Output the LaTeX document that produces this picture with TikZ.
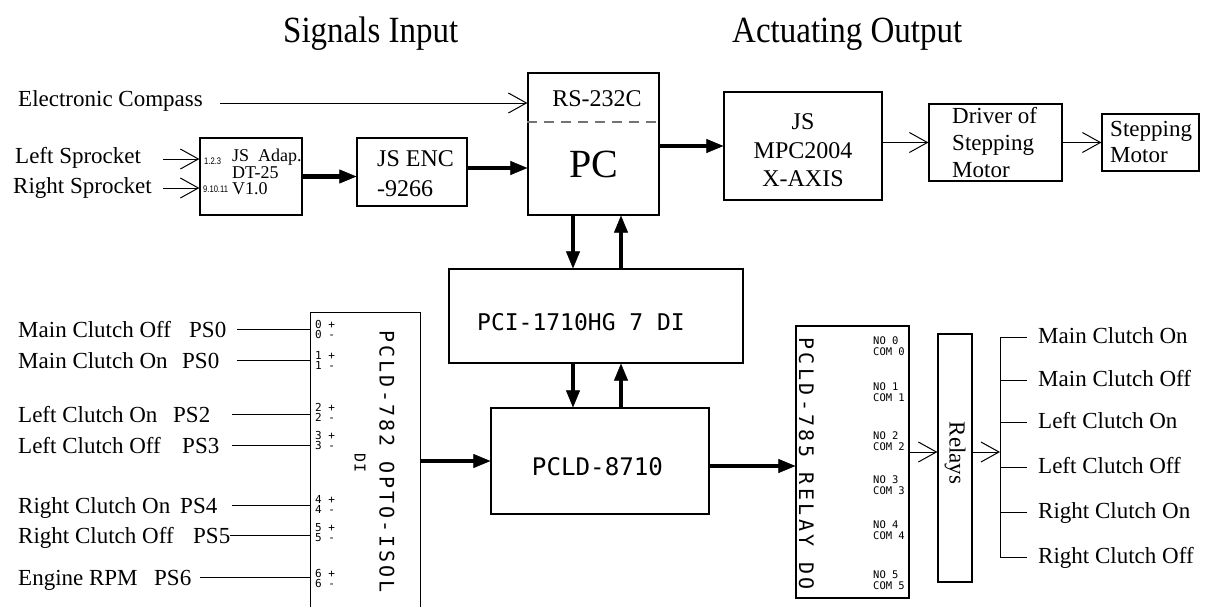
\documentclass[tikz,border=0pt]{standalone}
\usepackage{fontspec}
\setmainfont{Liberation Serif}
\newfontfamily\cadfont{DejaVu Sans Mono}
\newfontfamily\smallsans{Liberation Sans}
\usetikzlibrary{arrows.meta}
\newcommand\fsz[2]{\fontsize{#1}{#2}\selectfont}
\tikzset{
 blk/.style={draw, line width=1.2pt, inner sep=0pt},
 lbl/.style={inner sep=0pt, font=\fsz{23}{27}},
 inlbl/.style={lbl, anchor=west, text height=16pt, text depth=0pt},
 outlbl/.style={lbl, anchor=west, text height=12pt, text depth=0pt},
 cad/.style={inner sep=0pt, font=\cadfont\fsz{#1}{#1}},
 cadsp/.style={inner sep=0pt, rotate=-90, font=\cadfont\addfontfeature{LetterSpace=#1}\fsz{20}{20}},
 pinlbl/.style={inner sep=0pt, anchor=west, align=left, font=\cadfont\fsz{11}{10}},
 comlbl/.style={inner sep=0pt, anchor=west, align=left, font=\cadfont\fsz{10.5}{11}},
 tinysans/.style={inner sep=0pt, anchor=base west, font=\smallsans\fsz{9.5}{10}},
 wire/.style={line width=1pt},
 thinarrow/.style={line width=1pt, -{Straight Barb[length=18pt,width=20pt]}},
 fatarrow/.style={line width=4.5pt, -{Triangle[length=17pt,width=14pt,line width=0.5pt]}},
}
\begin{document}
\begin{tikzpicture}[x=1pt,y=-1pt]
\useasboundingbox (0,0) rectangle (1206,608);
% titles
\node[lbl, anchor=base west, font=\fsz{33}{38}] (t1) at (283,42) {\scalebox{1}[1.12]{Signals Input}};
\node[lbl, anchor=base west, font=\fsz{33}{38}] (t2) at (732,42) {\scalebox{1}[1.12]{Actuating Output}};
% blocks
\node[blk, minimum width=131pt, minimum height=142pt] (pc) at (593.5,144) {};
\node[blk, minimum width=158pt, minimum height=108pt] (mpc) at (803,146) {};
\node[blk, minimum width=133pt, minimum height=77pt] (drv) at (995.5,142.5) {};
\node[blk, minimum width=97pt, minimum height=57pt] (stm) at (1150.5,142.5) {};
\node[blk, minimum width=102pt, minimum height=77pt] (adap) at (251,176.5) {};
\node[blk, minimum width=110pt, minimum height=68pt] (enc) at (412,172) {};
\node[blk, minimum width=294pt, minimum height=94pt] (pci) at (596,316) {};
\node[blk, minimum width=218pt, minimum height=106pt] (pld) at (600,461) {};
\node[inner sep=0pt, minimum width=109pt, minimum height=294pt] (opto) at (365.5,460) {};
\draw[line width=1.2pt] (opto.south west) -- (opto.north west) -- (opto.north east) -- (opto.south east);
\node[blk, minimum width=113pt, minimum height=272pt] (relay) at (852.5,462) {};
\node[blk, minimum width=34pt, minimum height=248pt] (rly) at (955,458) {};
% block texts
\node[lbl, anchor=base, font=\fsz{24}{28}] (rs) at (597,106) {RS-232C};
\node[lbl, anchor=base, font=\fsz{40}{44}] (pcT) at (594,177) {PC};
\coordinate (dashY) at (0,122);
\draw[line width=1.3pt, draw=black!55, dash pattern=on 10pt off 7pt] (pc.west |- dashY) -- (pc.east |- dashY);
\node[lbl, align=center, font=\fsz{24}{28.5}] (mpcT) at (803,150.4) {JS\\MPC2004\\X-AXIS};
\node[lbl, anchor=west, align=left] (drvT) at (952,142.2) {Driver of\\Stepping\\Motor};
\node[lbl, anchor=west, align=left, font=\fsz{23}{26}] (stmT) at (1110,142.2) {Stepping\\Motor};
\node[lbl, anchor=west, align=left, font=\fsz{24}{30}] (encT) at (377,174) {JS ENC\\-9266};
\node[lbl, anchor=west, align=left, font=\fsz{18}{15.5}] (adapT) at (232,172) {JS\ \ Adap.\\DT-25\\V1.0};
\node[tinysans] (pa) at (204,164) {\scalebox{0.8}[1]{1.2.3}};
\node[tinysans] (pb) at (203,192) {\scalebox{0.8}[1]{9.10.11}};
\node[cad=23] (pciT) at (581,322) {PCI-1710HG 7 DI};
\node[cad=24.2] (pldT) at (597.5,466.5) {PCLD-8710};
\node[cadsp=14] (optoT) at (387,461.5) {PCLD-782 OPTO-ISOL};
\node[cad=15, rotate=-90] (diT) at (360,463) {DI};
\node[cadsp=17] (relayT) at (806.5,463.5) {PCLD-785 RELAY DO};
\node[lbl, rotate=-90] (rlyT) at (955,453) {Relays};
% pin labels
\node[pinlbl] (q0) at (315,329) {0 +\\0 -};
\node[pinlbl] (q1) at (315,360.5) {1 +\\1 -};
\node[pinlbl] (q2) at (315,412.5) {2 +\\2 -};
\node[pinlbl] (q3) at (315,440) {3 +\\3 -};
\node[pinlbl] (q4) at (315,504.5) {4 +\\4 -};
\node[pinlbl] (q5) at (315,533) {5 +\\5 -};
\node[pinlbl] (q6) at (315,578) {6 +\\6 -};
\node[comlbl] (c0) at (873,346.5) {NO 0\\COM 0};
\node[comlbl] (c1) at (873,392) {NO 1\\COM 1};
\node[comlbl] (c2) at (873,441) {NO 2\\COM 2};
\node[comlbl] (c3) at (873,485) {NO 3\\COM 3};
\node[comlbl] (c4) at (873,530) {NO 4\\COM 4};
\node[comlbl] (c5) at (873,580) {NO 5\\COM 5};
% input labels and wires
\node[inlbl] (i0) at (18,329) {\makebox[171pt][l]{Main Clutch Off}PS0};
\node[inlbl] (i1) at (18,360) {\makebox[164pt][l]{Main Clutch On}PS0};
\node[inlbl] (i2) at (18,414) {\makebox[155pt][l]{Left Clutch On}PS2};
\node[inlbl] (i3) at (18,445) {\makebox[164pt][l]{Left Clutch Off}PS3};
\node[inlbl] (i4) at (18,505) {\makebox[162pt][l]{Right Clutch On}PS4};
\node[inlbl] (i5) at (18,535) {\makebox[175pt][l]{Right Clutch Off}PS5};
\node[inlbl] (i6) at (18,577) {\makebox[136pt][l]{Engine RPM}PS6};
\coordinate (s0) at (237,329);
\coordinate (s1) at (237,360);
\coordinate (s2) at (232,414);
\coordinate (s3) at (232,445);
\coordinate (s4) at (232,505);
\coordinate (s5) at (230,535);
\coordinate (s6) at (200,577);
\foreach \s in {s0,s1,s2,s3,s4,s5,s6} \draw[wire] (\s) -- (\s -| opto.west);
% output labels and bus
\node[outlbl] (o0) at (1038,337) {Main Clutch On};
\node[outlbl] (o1) at (1038,380) {Main Clutch Off};
\node[outlbl] (o2) at (1038,422) {Left Clutch On};
\node[outlbl] (o3) at (1038,467) {Left Clutch Off};
\node[outlbl] (o4) at (1038,512) {Right Clutch On};
\node[outlbl] (o5) at (1038,557) {Right Clutch Off};
\coordinate (busT) at (1000,337);
\coordinate (busB) at (1000,557);
\draw[wire] (busT) -- (busB);
\foreach \n in {o0,o1,o2,o3,o4,o5} \draw[wire] (busT |- \n.west) -- ([xshift=-11pt]\n.west);
% top-left inputs
\node[lbl, anchor=base west] (comp) at (18,106) {Electronic Compass};
\node[lbl, anchor=base west] (ls) at (15,163) {Left Sprocket};
\node[lbl, anchor=base west] (rsp) at (13,193) {Right Sprocket};
\coordinate (compS) at (220,103);
\coordinate (lsS) at (163,159);
\coordinate (rsS) at (163,188);
\draw[thinarrow] (compS) -- (compS -| pc.west);
\draw[thinarrow] (lsS) -- (lsS -| adap.west);
\draw[thinarrow] (rsS) -- (rsS -| adap.west);
% connectors
\draw[fatarrow] (adap.east) -- (adap.east -| enc.west);
\coordinate (encY) at (0,168);
\draw[fatarrow] (enc.east |- encY) -- (pc.west |- encY);
\draw[fatarrow] (pc.east |- mpc.west) -- (mpc.west);
\draw[thinarrow] (mpc.east |- drv.west) -- (drv.west);
\draw[thinarrow] (drv.east) -- (drv.east -| stm.west);
\coordinate (dnX) at (573,0);
\coordinate (upX) at (621,0);
\draw[fatarrow] (pc.south -| dnX) -- (pci.north -| dnX);
\draw[fatarrow] (pci.north -| upX) -- (pc.south -| upX);
\draw[fatarrow] (pci.south -| dnX) -- (pld.north -| dnX);
\draw[fatarrow] (pld.north -| upX) -- (pci.south -| upX);
\draw[fatarrow] (opto.east |- pld.west) -- (pld.west);
\coordinate (pldY) at (0,466);
\draw[fatarrow] (pld.east |- pldY) -- (relay.west |- pldY);
\coordinate (rlyY) at (0,452);
\draw[thinarrow] (relay.east |- rlyY) -- (rly.west |- rlyY);
\draw[thinarrow] (rly.east |- rlyY) -- (busT |- rlyY);
\end{tikzpicture}
\end{document}
